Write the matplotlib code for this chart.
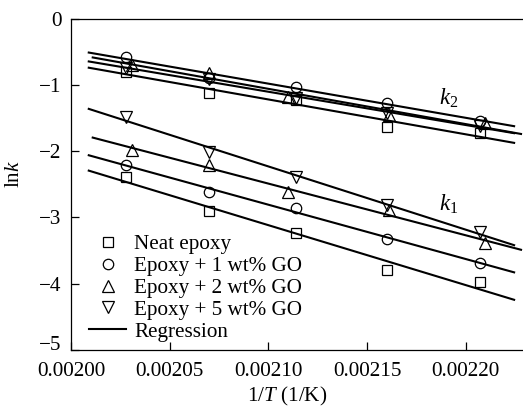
import numpy as np
import matplotlib.pyplot as plt
from matplotlib.ticker import FormatStrFormatter
from matplotlib.transforms import ScaledTranslation

plt.rcParams['font.family'] = 'Liberation Serif'
plt.rcParams['mathtext.fontset'] = 'custom'
plt.rcParams['mathtext.rm'] = 'Liberation Serif'
plt.rcParams['mathtext.it'] = 'Liberation Serif:italic'

# 1/T for the five cure temperatures (the 2 wt% set sits slightly off)
inv_t = [0.002028, 0.002070, 0.002114, 0.002160, 0.002207]
inv_t_2wt = [0.002031, 0.002070, 0.002110, 0.002161, 0.002210]

# ln k2 (upper group)
neat_k2 = [-0.80, -1.13, -1.23, -1.63, -1.73]
go1_k2 = [-0.58, -0.89, -1.03, -1.28, -1.54]
go2_k2 = [-0.70, -0.82, -1.18, -1.46, -1.58]
go5_k2 = [-0.75, -0.92, -1.20, -1.43, -1.62]

# ln k1 (lower group)
neat_k1 = [-2.39, -2.90, -3.24, -3.80, -3.97]
go1_k1 = [-2.21, -2.61, -2.86, -3.32, -3.69]
go2_k1 = [-1.98, -2.21, -2.62, -2.89, -3.39]
go5_k1 = [-1.48, -2.01, -2.39, -2.81, -3.22]

labels = ['Neat epoxy', 'Epoxy + 1 wt% GO', 'Epoxy + 2 wt% GO', 'Epoxy + 5 wt% GO']

series = [
    (inv_t, neat_k2, neat_k1, 's', 6.5, (0.002009, 0.0022245)),
    (inv_t, go1_k2, go1_k1, 'o', 7.5, (0.002009, 0.0022245)),
    (inv_t_2wt, go2_k2, go2_k1, '^', 8, (0.002011, 0.002228)),
    (inv_t, go5_k2, go5_k1, 'v', 8, (0.002009, 0.0022245)),
]

fs = 15.2

fig = plt.figure(figsize=(5.23, 4.07), dpi=100)
ax = fig.add_axes([71 / 523, 1 - 350 / 407, 452 / 523, 331.5 / 407])

for (x, k2, k1, m, ms, rng), lab in zip(series, labels):
    xl = np.array(rng)
    for y in (k2, k1):
        p = np.polyfit(x, y, 1)
        ax.plot(xl, np.polyval(p, xl), color='black', lw=1.5, zorder=2)
        ax.plot(x, y, linestyle='none', marker=m, markersize=ms, mfc='none',
                mec='black', mew=0.9, zorder=3)
    ax.plot([], [], linestyle='none', marker=m, markersize=ms, mfc='none',
            mec='black', mew=0.9, label=lab)
ax.plot([], [], color='black', lw=1.5, label='Regression')

ax.text(0.0021912, -1.20, r'$k_2$', fontsize=16.5, ha='center', va='center')
ax.text(0.0021912, -2.80, r'$k_1$', fontsize=16.5, ha='center', va='center')

ax.set_xlim(0.00200, 0.002229)
ax.set_ylim(-5, 0)
ax.set_xticks([0.00200, 0.00205, 0.00210, 0.00215, 0.00220])
ax.set_yticks([-5, -4, -3, -2, -1, 0])
ax.xaxis.set_major_formatter(FormatStrFormatter('%.5f'))
ax.tick_params(direction='in', length=6, width=0.9, labelsize=fs)
ax.tick_params(axis='x', pad=9)
ax.tick_params(axis='y', pad=7)
for s in ['left', 'bottom', 'top']:
    ax.spines[s].set_linewidth(0.9)
ax.spines['right'].set_visible(False)

# lift the -5 label clear of the first x tick label
fig.canvas.draw()
lab5 = ax.get_yticklabels()[0]
lab5.set_transform(lab5.get_transform() + ScaledTranslation(0, 7 / 100, fig.dpi_scale_trans))

ax.set_xlabel(r'1/$T$ (1/K)', fontsize=fs)
ax.set_ylabel(r'ln$k$', fontsize=fs)
ax.xaxis.set_label_coords(0.479, -0.105)
ax.yaxis.set_label_coords(-0.104, 0.53)

ax.legend(loc='lower left', bbox_to_anchor=(0.040, 0.025), frameon=False,
          fontsize=fs, borderaxespad=0, borderpad=0, labelspacing=0.1,
          handlelength=1.75, handletextpad=0.4)

plt.savefig('out.png', dpi=100, facecolor='white')
